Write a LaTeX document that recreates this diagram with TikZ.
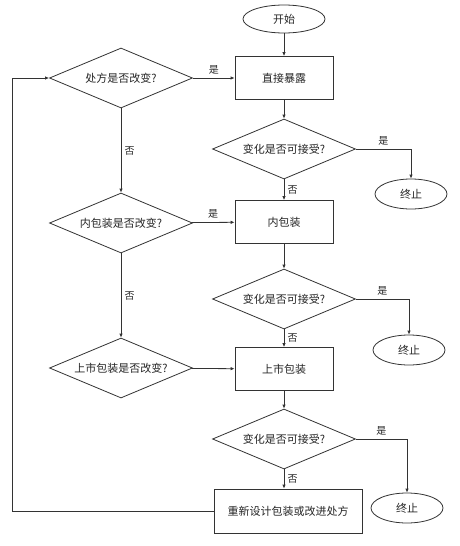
\documentclass[tikz,border=0pt]{standalone}
\usepackage{fontspec}
\newfontfamily\cjk{Noto Sans CJK SC}
\usetikzlibrary{shapes.geometric,arrows.meta}
\begin{document}
\begin{tikzpicture}[x=1pt,y=-1pt,
  every node/.style={font=\cjk\fontsize{11}{13}\selectfont, text=black!85},
  proc/.style={draw=black!80, line width=0.8pt, minimum width=98pt, minimum height=43pt, inner sep=0pt},
  dec/.style={draw=black!80, line width=0.8pt, diamond, aspect=2.45, minimum width=143pt, minimum height=60pt, inner sep=0pt},
  term/.style={draw=black!80, line width=0.8pt, ellipse, minimum width=72pt, minimum height=30pt, inner sep=0pt},
  conn/.style={draw=black!80, line width=0.8pt, -{Latex[length=4pt,width=3.5pt]}},
  lbl/.style={font=\cjk\fontsize{10}{12}\selectfont}
]
\useasboundingbox (0,0) rectangle (460,546);
\fill[white] (0,0) rectangle (460,546);

\node[term, minimum width=82pt, minimum height=28pt] (start) at (284,19) {开始};
\node[proc] (expose) at (284,78) {直接暴露};
\node[dec] (d1) at (121,78) {处方是否改变?};
\node[dec] (a1) at (284,149) {变化是否可接受?};
\node[term] (e1) at (411,194) {终止};
\node[proc] (inner) at (284,222) {内包装};
\node[dec] (d2) at (121,223) {内包装是否改变?};
\node[dec] (a2) at (284,299) {变化是否可接受?};
\node[term] (e2) at (409,350) {终止};
\node[dec] (d3) at (121,368) {上市包装是否改变?};
\node[proc] (market) at (284,369) {上市包装};
\node[dec] (a3) at (284,439) {变化是否可接受?};
\node[term] (e3) at (407,508) {终止};
\node[proc, minimum width=148pt, minimum height=44pt] (redesign) at (288,511) {重新设计包装或改进处方};
\coordinate (lt) at (12,78);

\draw[conn] (start) -- (expose);
\draw[conn] (d1) -- node[lbl, above] {是} (expose);
\draw[conn] (expose) -- (a1);
\draw[conn] (a1.east) -| node[lbl, above, pos=0.25] {是} (e1.north);
\draw[conn] (a1) -- node[lbl, right] {否} (inner);
\draw[conn] (d1) -- node[lbl, right] {否} (d2);
\draw[conn] (d2) -- node[lbl, above] {是} (inner);
\draw[conn] (inner) -- (a2);
\draw[conn] (a2.east) -| node[lbl, above, pos=0.25] {是} (e2.north);
\draw[conn] (a2) -- node[lbl, right] {否} (market);
\draw[conn] (d2) -- node[lbl, right] {否} (d3);
\draw[conn] (d3) -- (market);
\draw[conn] (market) -- (a3);
\draw[conn] (a3.east) -| node[lbl, above, pos=0.25] {是} (e3.north);
\draw[conn] (a3.south) -- node[lbl, right] {否} (a3.south |- redesign.north);
\draw[conn] (redesign.west) -- (redesign.west -| lt) -- (lt) -- (d1.west);
\end{tikzpicture}
\end{document}
